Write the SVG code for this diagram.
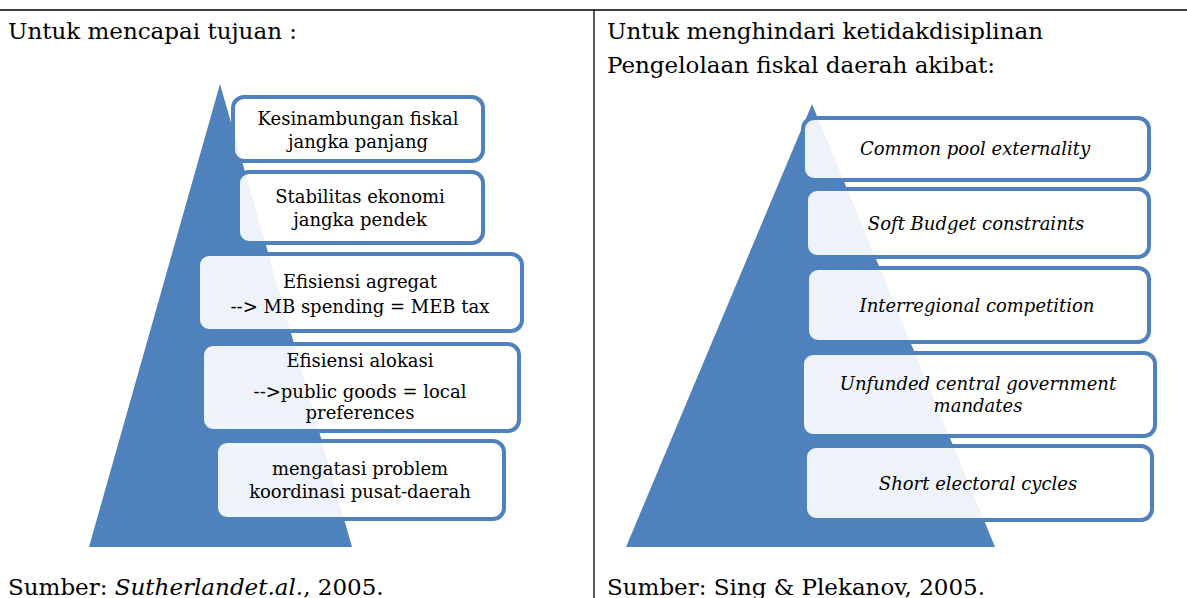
<svg xmlns="http://www.w3.org/2000/svg" width="1187" height="598" viewBox="0 0 1187 598">
<style>
.t{font-family:"DejaVu Serif","Liberation Serif",serif;fill:#000}
.h{font-size:23px}
.b{font-size:18px;text-anchor:middle}
.i{font-style:italic}
.box{fill:#fff;fill-opacity:0.9;stroke:#4f81bd;stroke-width:4}
.tri{fill:#4f81bd}
</style>
<rect x="0" y="0" width="1187" height="598" fill="#fff"/>
<g id="frame" stroke="#000" stroke-width="1.3">
<line x1="0" y1="10" x2="1187" y2="10"/>
<line x1="594" y1="10" x2="594" y2="598"/>
</g>
<text class="t h" x="8" y="39">Untuk mencapai tujuan :</text>
<text class="t h" x="607" y="39">Untuk menghindari ketidakdisiplinan</text>
<text class="t h" x="607" y="73">Pengelolaan fiskal daerah akibat:</text>
<text class="t h" x="8" y="595">Sumber: <tspan class="i">Sutherlandet.al.</tspan>, 2005.</text>
<text class="t h" x="607" y="595">Sumber: Sing &amp; Plekanov, 2005.</text>
<g id="connectors"></g>
<g id="pyramid-left"><polygon class="tri" points="220,84 352,547 89,547"/></g>
<g id="pyramid-right"><polygon class="tri" points="812,104 995,547 626,547"/></g>
<g id="l1"><rect class="box" x="233" y="97" width="250" height="64" rx="11"/>
<text class="t b" x="358" y="125">Kesinambungan fiskal</text><text class="t b" x="358" y="148">jangka panjang</text></g>
<g id="l2"><rect class="box" x="238" y="172" width="245" height="71" rx="11"/>
<text class="t b" x="360" y="203">Stabilitas ekonomi</text><text class="t b" x="360" y="226">jangka pendek</text></g>
<g id="l3"><rect class="box" x="198" y="254" width="324" height="77" rx="11"/>
<text class="t b" x="360" y="288">Efisiensi agregat</text><text class="t b" x="360" y="313">--&gt; MB spending = MEB tax</text></g>
<g id="l4"><rect class="box" x="202" y="344" width="317" height="87" rx="11"/>
<text class="t b" x="360" y="367">Efisiensi alokasi</text><text class="t b" x="360" y="398">--&gt;public goods = local</text><text class="t b" x="360" y="419">preferences</text></g>
<g id="l5"><rect class="box" x="216" y="441" width="288" height="78" rx="11"/>
<text class="t b" x="360" y="475">mengatasi problem</text><text class="t b" x="360" y="498">koordinasi pusat-daerah</text></g>
<g id="r1"><rect class="box" x="803" y="118" width="346" height="62" rx="11"/>
<text class="t b i" x="975" y="155">Common pool externality</text></g>
<g id="r2"><rect class="box" x="806" y="189" width="343" height="68" rx="11"/>
<text class="t b i" x="976" y="230">Soft Budget constraints</text></g>
<g id="r3"><rect class="box" x="807" y="268" width="342" height="74" rx="11"/>
<text class="t b i" x="977" y="312">Interregional competition</text></g>
<g id="r4"><rect class="box" x="802" y="353" width="353" height="83" rx="11"/>
<text class="t b i" x="978" y="390">Unfunded central government</text><text class="t b i" x="978" y="412">mandates</text></g>
<g id="r5"><rect class="box" x="805" y="446" width="347" height="74" rx="11"/>
<text class="t b i" x="978" y="490">Short electoral cycles</text></g>
</svg>
